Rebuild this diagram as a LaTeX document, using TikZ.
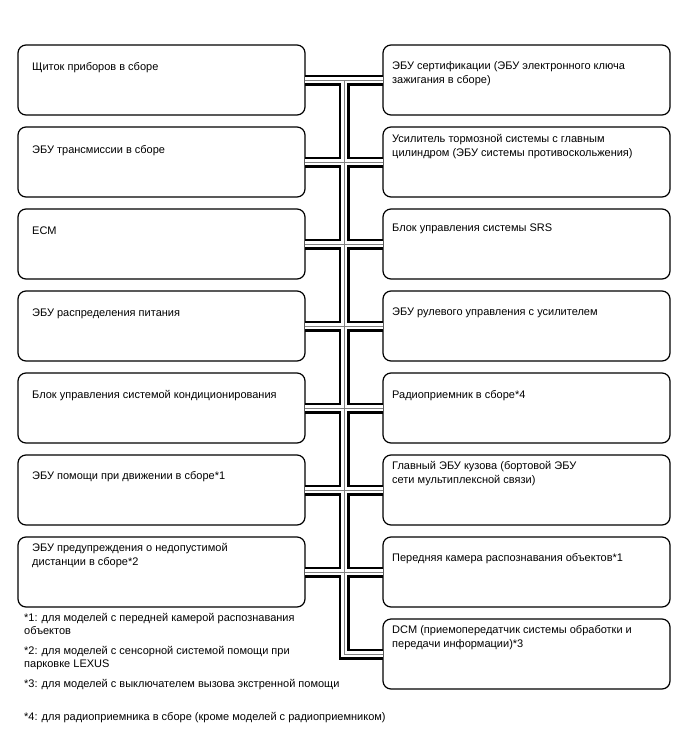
\documentclass[tikz,border=0pt]{standalone}
\usepackage{fontspec}
\setmainfont{Liberation Sans}
\usetikzlibrary{positioning,calc}

\begin{document}
\begin{tikzpicture}[
    x=1pt, y=-1pt,
    node distance=12pt and 78pt,
    unit/.style={rectangle, rounded corners=8pt, draw=black, line width=1.2pt, minimum width=287pt, minimum height=70pt, inner sep=0pt, outer sep=0pt},
    lbl/.style={anchor=north west, align=left, inner sep=0pt, font=\fontsize{11}{14}\selectfont},
    note/.style={anchor=north west, align=left, inner sep=0pt, font=\fontsize{11}{13.4}\selectfont},
]
    \useasboundingbox (0,0) rectangle (688,755);

    % ECU boxes, left column
    \node[unit] (l1) at (161.5,80) {};
    \node[unit, below=of l1] (l2) {};
    \node[unit, below=of l2] (l3) {};
    \node[unit, below=of l3] (l4) {};
    \node[unit, below=of l4] (l5) {};
    \node[unit, below=of l5] (l6) {};
    \node[unit, below=of l6] (l7) {};

    % ECU boxes, right column
    \node[unit, right=of l1] (r1) {};
    \node[unit, right=of l2] (r2) {};
    \node[unit, right=of l3] (r3) {};
    \node[unit, right=of l4] (r4) {};
    \node[unit, right=of l5] (r5) {};
    \node[unit, right=of l6] (r6) {};
    \node[unit, right=of l7] (r7) {};
    \node[unit, below=of r7] (r8) {};

    % CAN bus
    \coordinate (trunk) at ($(l1.east)!0.5!(r1.west)$);
    \foreach \w/\c in {11pt/black, 6.5pt/white, 0.8pt/gray} {
        \draw[line width=\w, \c] (l1.east) -- (r1.west);
        \draw[line width=\w, \c] (trunk) |- (r8.west);
        \foreach \i in {2,...,7}
            \draw[line width=\w, \c] (l\i.east) -- (r\i.west);
    }

    % texts
    \node[lbl] (l1t) at ([xshift=14pt, yshift=-17pt]l1.north west) {Щиток приборов в сборе};
    \node[lbl] (l2t) at ([xshift=14pt, yshift=-18pt]l2.north west) {ЭБУ трансмиссии в сборе};
    \node[lbl] (l3t) at ([xshift=14pt, yshift=-18pt]l3.north west) {ECM};
    \node[lbl] (l4t) at ([xshift=14pt, yshift=-18pt]l4.north west) {ЭБУ распределения питания};
    \node[lbl] (l5t) at ([xshift=14pt, yshift=-17pt]l5.north west) {Блок управления системой кондиционирования};
    \node[lbl] (l6t) at ([xshift=14pt, yshift=-16pt]l6.north west) {ЭБУ помощи при движении в сборе*1};
    \node[lbl] (l7t) at ([xshift=14pt, yshift=-6pt]l7.north west) {ЭБУ предупреждения о недопустимой\\дистанции в сборе*2};

    \node[lbl] (r1t) at ([xshift=9pt, yshift=-16pt]r1.north west) {ЭБУ сертификации (ЭБУ электронного ключа\\зажигания в сборе)};
    \node[lbl] (r2t) at ([xshift=9pt, yshift=-7pt]r2.north west) {Усилитель тормозной системы с главным\\цилиндром (ЭБУ системы противоскольжения)};
    \node[lbl] (r3t) at ([xshift=9pt, yshift=-15pt]r3.north west) {Блок управления системы SRS};
    \node[lbl] (r4t) at ([xshift=9pt, yshift=-17pt]r4.north west) {ЭБУ рулевого управления с усилителем};
    \node[lbl] (r5t) at ([xshift=9pt, yshift=-17pt]r5.north west) {Радиоприемник в сборе*4};
    \node[lbl] (r6t) at ([xshift=9pt, yshift=-6pt]r6.north west) {Главный ЭБУ кузова (бортовой ЭБУ\\сети мультиплексной связи)};
    \node[lbl] (r7t) at ([xshift=9pt, yshift=-16pt]r7.north west) {Передняя камера распознавания объектов*1};
    \node[lbl] (r8t) at ([xshift=9pt, yshift=-6pt]r8.north west) {DCM (приемопередатчик системы обработки и\\передачи информации)*3};

    % footnotes
    \node[note] (n1) at (24,613) {*1: для моделей с передней камерой распознавания\\объектов};
    \node[note] (n2) at (24,646) {*2: для моделей с сенсорной системой помощи при\\парковке LEXUS};
    \node[note] (n3) at (24,679) {*3: для моделей с выключателем вызова экстренной помощи};
    \node[note] (n4) at (24,712) {*4: для радиоприемника в сборе (кроме моделей с радиоприемником)};

\end{tikzpicture}
\end{document}
